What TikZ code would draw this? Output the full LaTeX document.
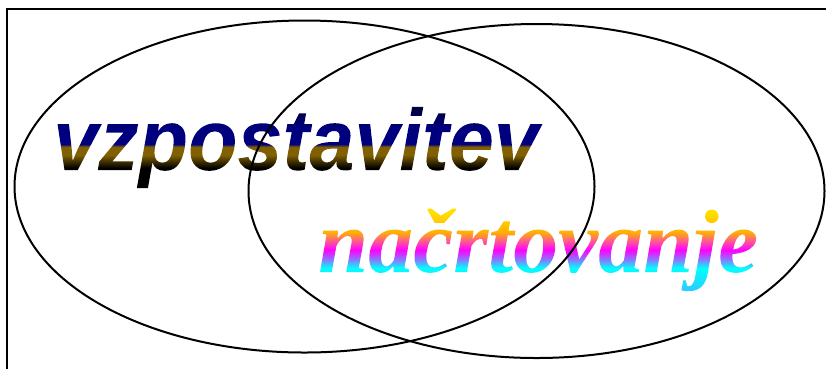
\documentclass[tikz,border=0pt]{standalone}
\usepackage{fontspec}
\newfontfamily\vzfont{Liberation Sans}
\newfontfamily\nafont{Liberation Serif}
\definecolor{vztop}{HTML}{000040}
\definecolor{vznavy}{HTML}{00007F}
\definecolor{vzgold}{HTML}{806000}
\definecolor{nayel}{HTML}{FFE000}
\definecolor{naora}{HTML}{FFB000}
\definecolor{napink}{HTML}{FF50A0}
\definecolor{namag}{HTML}{FF00FF}
\definecolor{navio}{HTML}{8080FF}
\definecolor{nacya}{HTML}{00FFFF}
\definecolor{nablu}{HTML}{30C8FF}
% shading boxes: 0pt = bottom of the box (below the baseline), upwards
\pgfdeclareverticalshading{vzsh}{600pt}{color(0pt)=(black); color(27pt)=(black); color(40pt)=(vzgold); color(48pt)=(vzgold); color(51pt)=(vznavy); color(67pt)=(vznavy); color(85pt)=(vztop); color(90pt)=(vztop)}
\pgfdeclareverticalshading{nash}{480pt}{color(0pt)=(nablu); color(8pt)=(nablu); color(32pt)=(nacya); color(40pt)=(navio); color(50pt)=(namag); color(58pt)=(napink); color(68pt)=(naora); color(88pt)=(nayel); color(100pt)=(nayel)}
\makeatletter
\newcommand\gradword[3]{% #1 shading, #2 depth of shading box, #3 word
  \pgfsys@beginscope\pgfsys@invoke{ 7 Tr }\rlap{#3}\pgfsys@invoke{ 0 Tr }%
  \raisebox{-#2}{\pgfuseshading{#1}}\pgfsys@endscope}
\makeatother
\tikzset{
  vzstyle/.style={anchor=base west,inner sep=0pt,font=\vzfont\bfseries\itshape\fontsize{87}{87}\selectfont,xscale=0.93},
  nastyle/.style={anchor=base west,inner sep=0pt,font=\nafont\bfseries\itshape\fontsize{90}{90}\selectfont},
  venn/.style={line width=2pt,draw=black}
}
\begin{document}
\begin{tikzpicture}[x=1pt,y=-1pt]
  \useasboundingbox (0,0) rectangle (826,368);
  \fill[white] (0,0) rectangle (826,368);
  % gradient-filled words
  \node[vzstyle] (vz) at (53,170) {\gradword{vzsh}{25pt}{vzpostavitev}};
  \node[nastyle] (na) at (318,272) {\gradword{nash}{28pt}{načrtovanje}};
  % frame
  \coordinate (ftr) at (840,9);
  \coordinate (ftl) at (7,9);
  \coordinate (fbl) at (7,380);
  \draw[line width=2pt] (ftr) -- (ftl) -- (fbl);
  % the two ellipses
  \draw[venn] (304.5,186.5) ellipse [x radius=290, y radius=166];
  \draw[venn] (536.5,191) ellipse [x radius=288, y radius=167];
\end{tikzpicture}
\end{document}
